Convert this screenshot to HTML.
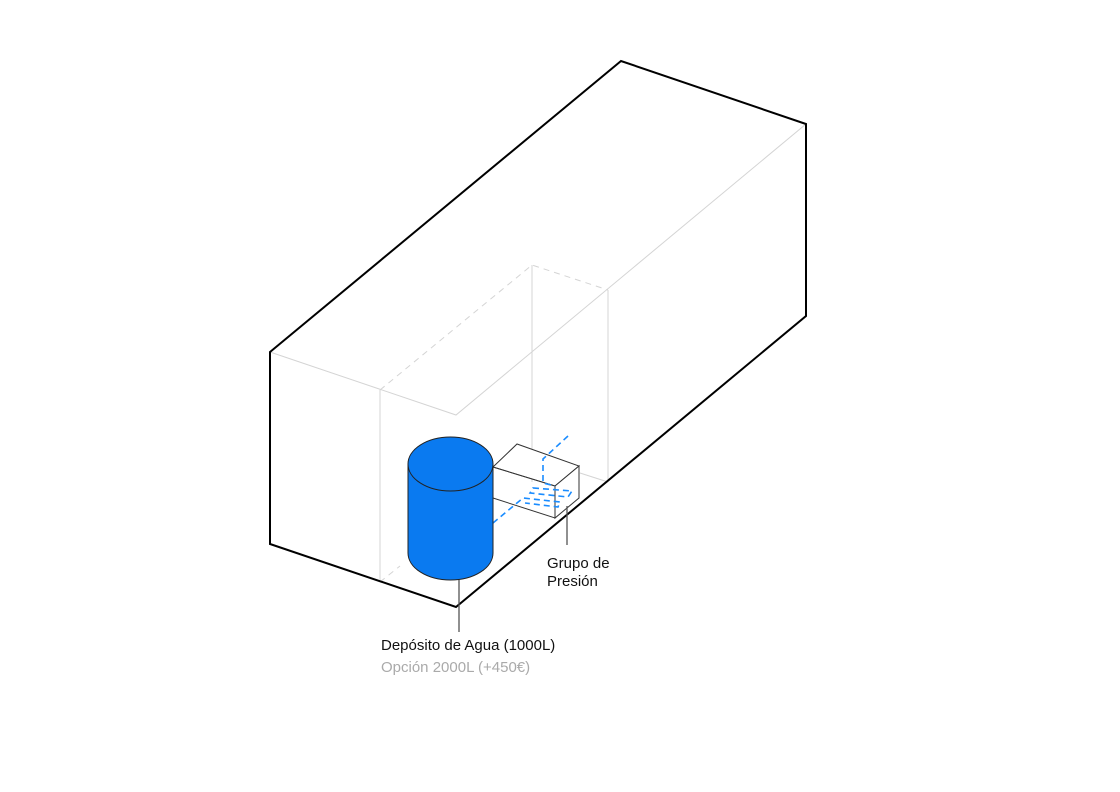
<!DOCTYPE html>
<html><head><style>
body{margin:0;background:#fff;}
svg{display:block}
text{font-family:"Liberation Sans",sans-serif;font-size:15px}
</style></head><body>
<svg width="1120" height="792" viewBox="0 0 1120 792">
<g fill="none" stroke="#d4d4d4" stroke-width="1">
<polyline points="270,352 456,415 806,124"/>
<line x1="380" y1="390" x2="380" y2="582"/>
<line x1="532" y1="265" x2="532" y2="482"/>
<line x1="608" y1="290" x2="608" y2="482"/>
<polyline points="380,390 532,265 608,290" stroke-dasharray="6,5"/>
<line x1="380" y1="582" x2="400" y2="566" stroke-dasharray="6,5"/>
<line x1="580" y1="473" x2="608" y2="482"/>
</g>
<polygon points="270,352 621,61 806,124 806,316 456,607 270,544" fill="none" stroke="#000" stroke-width="2"/>
<g fill="#fff" stroke="#333" stroke-width="1">
<polygon points="493,467 517,444 579,466 555,486"/>
<polygon points="555,486 579,466 579,498 555,518"/>
<polygon points="493,467 555,486 555,518 493,498" fill="none"/>
</g>
<g fill="none" stroke="#1a8cff" stroke-width="1.6" stroke-dasharray="6,4">
<polyline points="568,436 543,459 543,483 555,486"/>
<polygon points="533,488 572,491 568,497 530,493"/>
<polyline points="493,523 523,498 560,502 558,507 525,503"/>
</g>
<path d="M408,464 L408,553 A42.5,27 0 0 0 493,553 L493,464 Z" fill="#0a7af0" stroke="#222" stroke-width="1"/>
<ellipse cx="450.5" cy="464" rx="42.5" ry="27" fill="#0a7af0" stroke="#222" stroke-width="1"/>
<line x1="459" y1="580" x2="459" y2="632" stroke="#555" stroke-width="1.3"/>
<line x1="567" y1="506" x2="567" y2="545" stroke="#555" stroke-width="1.3"/>
<text x="381" y="650" fill="#111">Depósito de Agua (1000L)</text>
<text x="381" y="672" fill="#aaa">Opción 2000L (+450€)</text>
<text x="547" y="568" fill="#111">Grupo de</text>
<text x="547" y="586" fill="#111">Presión</text>
</svg>
</body></html>
